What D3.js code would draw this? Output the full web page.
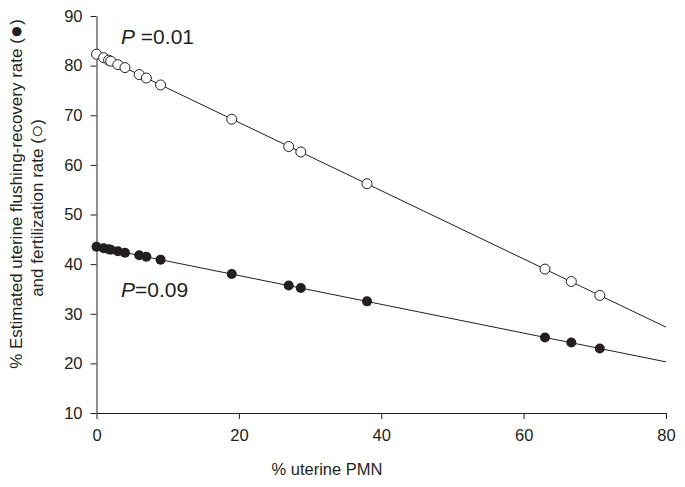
<!DOCTYPE html>
<html>
<head>
<meta charset="utf-8">
<script src="https://cdn.jsdelivr.net/npm/d3@7"></script>
<style>
  body { margin: 0; background: #fff; }
  svg { display: block; }
  .axis path, .axis line { stroke: #231f20; stroke-width: 1; }
  .axis text { font-family: "Liberation Sans", Arial, sans-serif; font-size: 16.5px; fill: #231f20; }
</style>
</head>
<body>
<svg></svg>
<script>
// % uterine PMN for each sample
const pmn = [0, 1, 1.7, 2, 3, 4, 6, 7, 9, 19, 27, 28.7, 38, 63, 66.7, 70.7];
// fertilization rate (open circles)
const fertRate = [82.3, 81.6, 81.1, 80.9, 80.2, 79.6, 78.2, 77.5, 76.1, 69.2, 63.7, 62.6, 56.2, 39.0, 36.5, 33.7];
// flushing-recovery rate (filled circles)
const recoveryRate = [43.5, 43.2, 43.0, 42.9, 42.6, 42.3, 41.8, 41.5, 40.9, 38.0, 35.7, 35.2, 32.5, 25.2, 24.2, 23.0];
// regression lines, read at x = 0 and x = 80
const fitX = [0, 80];
const fertFit = [82.3, 27.3];
const recoveryFit = [43.5, 20.3];
const xTicks = [0, 20, 40, 60, 80];
const yTicks = [10, 20, 30, 40, 50, 60, 70, 80, 90];

const w = 685;
const h = 487;
const margin = { top: 16, left: 96.5, right: 19, bottom: 74 };
const ink = "#231f20";
const font = "Liberation Sans, Arial, sans-serif";

const svg = d3.select("svg").attr("width", w).attr("height", h);

const xScale = d3.scaleLinear().domain([0, 80]).range([margin.left, w - margin.right]);
const yScale = d3.scaleLinear().domain([10, 90]).range([h - margin.bottom, margin.top]);

// axes
svg.append("g")
  .attr("class", "axis")
  .attr("transform", `translate(0, ${h - margin.bottom})`)
  .call(d3.axisBottom(xScale).tickValues(xTicks).tickSize(6).tickSizeOuter(0).tickPadding(10));

svg.append("g")
  .attr("class", "axis")
  .attr("transform", `translate(${margin.left}, 0)`)
  .call(d3.axisLeft(yScale).tickValues(yTicks).tickSize(6).tickSizeOuter(0).tickPadding(8));

// regression lines
const line = d3.line().x(d => xScale(d[0])).y(d => yScale(d[1]));
[fertFit, recoveryFit].forEach(fit => {
  svg.append("path")
    .datum(fitX.map((x, i) => [x, fit[i]]))
    .attr("d", line)
    .attr("fill", "none")
    .attr("stroke", ink)
    .attr("stroke-width", 1);
});

// filled points
svg.append("g")
  .selectAll("circle")
  .data(pmn.map((x, i) => [x, recoveryRate[i]]))
  .enter()
  .append("circle")
  .attr("cx", d => xScale(d[0]))
  .attr("cy", d => yScale(d[1]))
  .attr("r", 5)
  .attr("fill", ink);

// open points
svg.append("g")
  .selectAll("circle")
  .data(pmn.map((x, i) => [x, fertRate[i]]))
  .enter()
  .append("circle")
  .attr("cx", d => xScale(d[0]))
  .attr("cy", d => yScale(d[1]))
  .attr("r", 5)
  .attr("fill", "#fff")
  .attr("stroke", ink)
  .attr("stroke-width", 1);

// P value annotations
function pLabel(x, y, rest) {
  const t = svg.append("text")
    .attr("x", x).attr("y", y)
    .style("font-family", font)
    .style("font-size", "21px")
    .attr("fill", ink);
  t.append("tspan").style("font-style", "italic").text("P");
  t.append("tspan").text(rest);
}
pLabel(121, 44, " =0.01");
pLabel(121, 297, "=0.09");

// axis titles
svg.append("text")
  .attr("x", 327)
  .attr("y", 475)
  .attr("text-anchor", "middle")
  .style("font-family", font)
  .style("font-size", "16.5px")
  .attr("fill", ink)
  .text("% uterine PMN");

const yTitle1 = svg.append("text")
  .attr("transform", "translate(22, 194) rotate(-90)")
  .attr("text-anchor", "middle")
  .style("font-family", font)
  .style("font-size", "17px")
  .attr("fill", ink);
yTitle1.append("tspan").text("% Estimated uterine flushing-recovery rate (");
yTitle1.append("tspan").style("font-size", "22px").attr("dy", 1).text("\u25CF");
yTitle1.append("tspan").attr("dy", -1).text(")");

const yTitle2 = svg.append("text")
  .attr("transform", "translate(43, 208) rotate(-90)")
  .attr("text-anchor", "middle")
  .style("font-family", font)
  .style("font-size", "17px")
  .attr("fill", ink);
yTitle2.append("tspan").text("and fertilization rate (");
yTitle2.append("tspan").style("font-size", "22px").attr("dy", 1).text("\u25CB");
yTitle2.append("tspan").attr("dy", -1).text(")");
</script>
</body>
</html>
